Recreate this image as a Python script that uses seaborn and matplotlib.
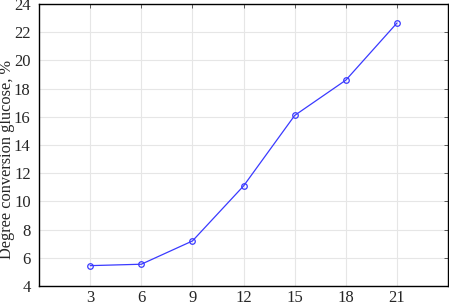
import matplotlib
matplotlib.use("Agg")
import matplotlib.pyplot as plt
from matplotlib import font_manager
import seaborn as sns
import pandas as pd

time_h = [3, 6, 9, 12, 15, 18, 21]
conversion = [5.45, 5.55, 7.2, 11.1, 16.1, 18.6, 22.65]
x_ticks = [3, 6, 9, 12, 15, 18, 21]
y_ticks = [4, 6, 8, 10, 12, 14, 16, 18, 20, 22, 24]

sns.set_style("white")
fam = "DejaVu Serif"
for f in font_manager.fontManager.ttflist:
    if "LiberationSerif-Regular" in f.fname:
        fam = f.name
        break
plt.rcParams['font.family'] = [fam, 'DejaVu Serif']

df = pd.DataFrame({"t": time_h, "c": conversion})
fig = plt.figure(figsize=(4.49, 3.05), dpi=100)
ax = fig.add_axes([0.087, 0.062, 0.911, 0.925])
sns.lineplot(data=df, x="t", y="c", ax=ax, color="#3a3aff", linewidth=0.9,
             marker="o", markersize=4, markerfacecolor="none",
             markeredgecolor="#3a3aff", markeredgewidth=0.9)
ax.set_xlim(0, 24)
ax.set_ylim(4, 24)
ax.set_xticks(x_ticks)
ax.set_yticks(y_ticks)
ax.grid(True, color="#e6e6e6", linewidth=0.8)
ax.set_axisbelow(True)
ax.set_xlabel("")
ax.set_ylabel("Degree conversion glucose, %", fontsize=11.8)
ax.yaxis.set_label_coords(-0.058, 0.45)
ax.tick_params(axis="both", labelsize=12, direction="in", length=3, width=0.6,
               top=True, right=True, color="#444444")
ax.tick_params(axis="x", pad=3)
ax.tick_params(axis="y", pad=6)
for s in ax.spines.values():
    s.set_visible(True)
    s.set_color("black")
    s.set_linewidth(1.0)
fig.savefig("out.png", dpi=100)
